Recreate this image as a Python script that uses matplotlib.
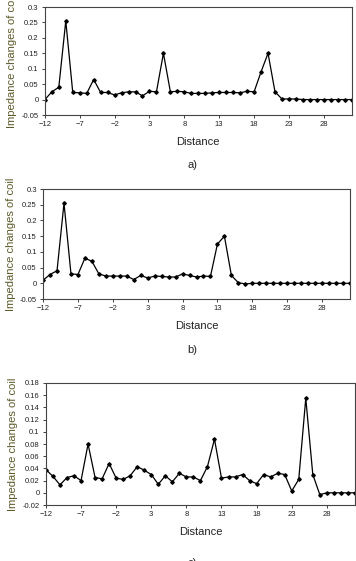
import matplotlib
matplotlib.use("Agg")
import matplotlib.pyplot as plt
import numpy as np

plt.rcParams['font.family'] = ['Liberation Sans', 'DejaVu Sans']

# distance positions shared by all three scans
distance = list(range(-12, 33))

# scan a)
imp_a = [0, 0.025, 0.04, 0.255, 0.023, 0.022, 0.02, 0.065, 0.023, 0.023,
         0.015, 0.022, 0.025, 0.025, 0.012, 0.027, 0.025, 0.15, 0.025, 0.027,
         0.025, 0.02, 0.02, 0.02, 0.022, 0.023, 0.023, 0.023, 0.022, 0.027,
         0.025, 0.09, 0.15, 0.025, 0.002, 0.002, 0.002, 0, 0, 0,
         0, 0, 0, 0, 0]

# scan b)
imp_b = [0.01, 0.028, 0.04, 0.255, 0.03, 0.028, 0.08, 0.07, 0.03, 0.023,
         0.023, 0.023, 0.023, 0.012, 0.025, 0.017, 0.023, 0.022, 0.02, 0.02,
         0.03, 0.025, 0.02, 0.023, 0.022, 0.125, 0.15, 0.025, 0.002, -0.002,
         0, 0, 0, 0, 0, 0, 0, 0, 0, 0,
         0, 0, 0, 0, 0]

# scan c)
imp_c = [0.038, 0.027, 0.013, 0.025, 0.028, 0.02, 0.08, 0.025, 0.023, 0.048,
         0.024, 0.022, 0.028, 0.043, 0.037, 0.03, 0.014, 0.028, 0.018, 0.032,
         0.026, 0.026, 0.02, 0.043, 0.088, 0.024, 0.026, 0.026, 0.03, 0.02,
         0.015, 0.03, 0.026, 0.032, 0.03, 0.003, 0.022, 0.155, 0.03, -0.003,
         0, 0, 0, 0, 0]

xticks = [-12, -7, -2, 3, 8, 13, 18, 23, 28]
yticks_ab = [-0.05, 0, 0.05, 0.1, 0.15, 0.2, 0.25, 0.3]
yticks_c = [-0.02, 0, 0.02, 0.04, 0.06, 0.08, 0.1, 0.12, 0.14, 0.16, 0.18]

fig = plt.figure(figsize=(3.56, 5.61), dpi=100)

panels = [
    (imp_a, yticks_ab, [0.126, 0.795, 0.862, 0.1925], 'a)', 0.706),
    (imp_b, yticks_ab, [0.121, 0.467, 0.862, 0.196], 'b)', 0.376),
    (imp_c, yticks_c, [0.129, 0.0998, 0.868, 0.2175], 'c)', -0.004),
]

for vals, yt, pos, tag, tag_y in panels:
    ax = fig.add_axes(pos)
    ax.plot(distance, vals, color='black', lw=0.9, marker='D', ms=1.8)
    ax.set_xlim(-12, 32)
    ax.set_ylim(yt[0], yt[-1])
    ax.set_xticks(xticks)
    ax.set_yticks(yt)
    ax.set_yticklabels([('%g' % v) for v in yt])
    ax.tick_params(labelsize=5.5, length=2.5, width=0.6, colors='#222222', pad=2)
    for s in ax.spines.values():
        s.set_color('#444444')
        s.set_linewidth(0.8)
    ax.set_xlabel('Distance', fontsize=8, labelpad=6, color='#222222')
    ax.set_ylabel('Impedance changes of coil', fontsize=8, color='#5c5a2a', labelpad=3)
    fig.text(0.54, tag_y, tag, fontsize=8, ha='center', va='center', color='#222222')

fig.savefig('out.png', dpi=100)
